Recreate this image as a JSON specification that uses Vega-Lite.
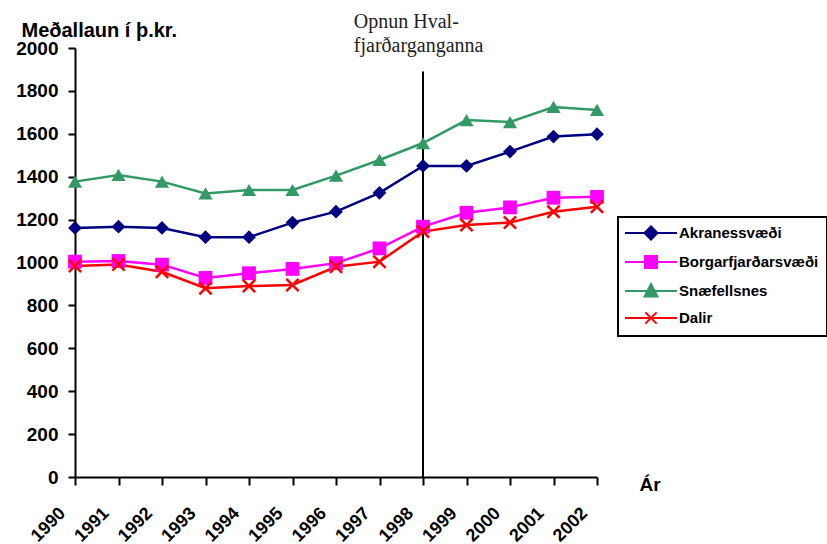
{
 "$schema": "https://vega.github.io/schema/vega-lite/v6.json",
 "width": 522,
 "height": 429,
 "autosize": "none",
 "padding": {"left": 75, "top": 48, "right": 230, "bottom": 67},
 "background": "white",
 "config": {"view": {"stroke": null}, "font": "Liberation Sans"},
 "datasets": {
  "laun": [
   {"year": 1990, "series": "Akranessvæði", "value": 1161},
   {"year": 1991, "series": "Akranessvæði", "value": 1167},
   {"year": 1992, "series": "Akranessvæði", "value": 1161},
   {"year": 1993, "series": "Akranessvæði", "value": 1118},
   {"year": 1994, "series": "Akranessvæði", "value": 1118},
   {"year": 1995, "series": "Akranessvæði", "value": 1186},
   {"year": 1996, "series": "Akranessvæði", "value": 1237},
   {"year": 1997, "series": "Akranessvæði", "value": 1325},
   {"year": 1998, "series": "Akranessvæði", "value": 1450},
   {"year": 1999, "series": "Akranessvæði", "value": 1450},
   {"year": 2000, "series": "Akranessvæði", "value": 1517},
   {"year": 2001, "series": "Akranessvæði", "value": 1587},
   {"year": 2002, "series": "Akranessvæði", "value": 1598},
   {"year": 1990, "series": "Borgarfjarðarsvæði", "value": 1004},
   {"year": 1991, "series": "Borgarfjarðarsvæði", "value": 1007},
   {"year": 1992, "series": "Borgarfjarðarsvæði", "value": 990},
   {"year": 1993, "series": "Borgarfjarðarsvæði", "value": 928},
   {"year": 1994, "series": "Borgarfjarðarsvæði", "value": 950},
   {"year": 1995, "series": "Borgarfjarðarsvæði", "value": 970},
   {"year": 1996, "series": "Borgarfjarðarsvæði", "value": 997},
   {"year": 1997, "series": "Borgarfjarðarsvæði", "value": 1066},
   {"year": 1998, "series": "Borgarfjarðarsvæði", "value": 1167},
   {"year": 1999, "series": "Borgarfjarðarsvæði", "value": 1232},
   {"year": 2000, "series": "Borgarfjarðarsvæði", "value": 1257},
   {"year": 2001, "series": "Borgarfjarðarsvæði", "value": 1302},
   {"year": 2002, "series": "Borgarfjarðarsvæði", "value": 1306},
   {"year": 1990, "series": "Snæfellsnes", "value": 1377},
   {"year": 1991, "series": "Snæfellsnes", "value": 1408},
   {"year": 1992, "series": "Snæfellsnes", "value": 1377},
   {"year": 1993, "series": "Snæfellsnes", "value": 1322},
   {"year": 1994, "series": "Snæfellsnes", "value": 1338},
   {"year": 1995, "series": "Snæfellsnes", "value": 1338},
   {"year": 1996, "series": "Snæfellsnes", "value": 1405},
   {"year": 1997, "series": "Snæfellsnes", "value": 1478},
   {"year": 1998, "series": "Snæfellsnes", "value": 1557},
   {"year": 1999, "series": "Snæfellsnes", "value": 1664},
   {"year": 2000, "series": "Snæfellsnes", "value": 1655},
   {"year": 2001, "series": "Snæfellsnes", "value": 1725},
   {"year": 2002, "series": "Snæfellsnes", "value": 1711},
   {"year": 1990, "series": "Dalir", "value": 984},
   {"year": 1991, "series": "Dalir", "value": 991},
   {"year": 1992, "series": "Dalir", "value": 957},
   {"year": 1993, "series": "Dalir", "value": 880},
   {"year": 1994, "series": "Dalir", "value": 890},
   {"year": 1995, "series": "Dalir", "value": 895},
   {"year": 1996, "series": "Dalir", "value": 980},
   {"year": 1997, "series": "Dalir", "value": 1004},
   {"year": 1998, "series": "Dalir", "value": 1144},
   {"year": 1999, "series": "Dalir", "value": 1175},
   {"year": 2000, "series": "Dalir", "value": 1186},
   {"year": 2001, "series": "Dalir", "value": 1237},
   {"year": 2002, "series": "Dalir", "value": 1260}
  ],
  "marker": [{"year": 1998, "low": 0, "high": 1890, "labelYear": 1996.41, "labelValue": 2093}]
 },
 "layer": [
  {
   "data": {"name": "marker"},
   "mark": {"type": "rule", "color": "black", "strokeWidth": 2},
   "encoding": {
    "x": {"field": "year", "type": "quantitative"},
    "y": {"field": "low", "type": "quantitative"},
    "y2": {"field": "high"}
   }
  },
  {
   "data": {"name": "laun"},
   "mark": {"type": "line", "strokeWidth": 2.5},
   "encoding": {
    "x": {
     "field": "year", "type": "quantitative",
     "scale": {"domain": [1990, 2002], "nice": false, "zero": false},
     "axis": {
      "values": [1990,1991,1992,1993,1994,1995,1996,1997,1998,1999,2000,2001,2002],
      "format": "d", "grid": false,
      "labelAngle": -45, "labelAlign": "right", "labelBaseline": "top",
      "labelFontSize": 18, "labelFontWeight": "bold", "labelColor": "black",
      "labelPadding": 19, "labelOffset": -19, "labelFlush": false, "labelOverlap": false,
      "tickSize": 8, "tickWidth": 2, "tickColor": "black",
      "domainWidth": 2, "domainColor": "black",
      "title": "Ár", "titleFontSize": 19, "titleFontWeight": "bold", "titleColor": "black",
      "titleAngle": 0, "titleAlign": "left", "titleBaseline": "alphabetic",
      "titleX": 564, "titleY": 13
     }
    },
    "y": {
     "field": "value", "type": "quantitative",
     "scale": {"domain": [0, 2000], "nice": false},
     "axis": {
      "values": [0,200,400,600,800,1000,1200,1400,1600,1800,2000],
      "format": "d", "grid": false,
      "labelFontSize": 19, "labelFontWeight": "bold", "labelColor": "black",
      "labelPadding": 10,
      "tickSize": 7, "tickWidth": 2, "tickColor": "black",
      "domainWidth": 2, "domainColor": "black",
      "title": "Meðallaun í þ.kr.", "titleFontSize": 20, "titleFontWeight": "bold", "titleColor": "black",
      "titleAngle": 0, "titleAlign": "left", "titleBaseline": "alphabetic",
      "titleX": -54, "titleY": -12
     }
    },
    "color": {
     "field": "series", "type": "nominal",
     "scale": {"domain": ["Akranessvæði", "Borgarfjarðarsvæði", "Snæfellsnes", "Dalir"], "range": ["#000080", "#FF00FF", "#339966", "#FF0000"]},
     "legend": {
      "title": null, "orient": "none", "legendX": 543, "legendY": 169,
      "strokeColor": "black", "padding": 8, "rowPadding": 7,
      "symbolSize": 196, "symbolStrokeWidth": 2, "symbolOffset": 17,
      "labelFont": "Liberation Sans", "labelFontSize": 15, "labelFontWeight": "bold", "labelColor": "black",
      "labelOffset": 20, "labelLimit": 300,
      "encode": {
       "legend": {"update": {"strokeWidth": {"value": 2}}},
       "symbols": {"update": {
        "shape": {"signal": "datum.value === 'Akranessvæði' ? 'M-3.714,0L3.714,0M-0.93,0L0,-0.93L0.93,0L0,0.93Z' : datum.value === 'Borgarfjarðarsvæði' ? 'M-3.714,0L3.714,0M-0.86,-0.86L0.86,-0.86L0.86,0.86L-0.86,0.86Z' : datum.value === 'Snæfellsnes' ? 'M-3.714,0L3.714,0M0,-1L0.93,0.8L-0.93,0.8Z' : 'M-3.714,0L3.714,0M-0.8,-0.8L0.8,0.8M-0.8,0.8L0.8,-0.8'"},
        "fill": {"signal": "scale('color', datum.value)"},
        "stroke": {"signal": "scale('color', datum.value)"},
        "strokeWidth": {"value": 2},
        "opacity": {"value": 1}
       }}
      }
     }
    }
   }
  },
  {
   "data": {"name": "laun"},
   "transform": [{"filter": "datum.series === 'Akranessvæði'"}],
   "mark": {"type": "point", "shape": "diamond", "filled": true, "opacity": 1, "size": 190, "color": "#000080"},
   "encoding": {
    "x": {"field": "year", "type": "quantitative"},
    "y": {"field": "value", "type": "quantitative"}
   }
  },
  {
   "data": {"name": "laun"},
   "transform": [{"filter": "datum.series === 'Borgarfjarðarsvæði'"}],
   "mark": {"type": "point", "shape": "square", "filled": true, "opacity": 1, "size": 190, "color": "#FF00FF"},
   "encoding": {
    "x": {"field": "year", "type": "quantitative"},
    "y": {"field": "value", "type": "quantitative"}
   }
  },
  {
   "data": {"name": "laun"},
   "transform": [{"filter": "datum.series === 'Snæfellsnes'"}],
   "mark": {"type": "point", "shape": "triangle-up", "filled": true, "opacity": 1, "size": 200, "color": "#339966"},
   "encoding": {
    "x": {"field": "year", "type": "quantitative"},
    "y": {"field": "value", "type": "quantitative"}
   }
  },
  {
   "data": {"name": "laun"},
   "transform": [{"filter": "datum.series === 'Dalir'"}],
   "mark": {"type": "point", "shape": "M-1,-1L1,1M-1,1L1,-1", "filled": false, "opacity": 1, "size": 150, "strokeWidth": 2.5, "color": "#FF0000"},
   "encoding": {
    "x": {"field": "year", "type": "quantitative"},
    "y": {"field": "value", "type": "quantitative"}
   }
  },
  {
   "data": {"name": "marker"},
   "mark": {"type": "text", "font": "Liberation Serif", "fontSize": 20, "align": "left", "baseline": "alphabetic", "lineHeight": 24, "color": "#222222"},
   "encoding": {
    "x": {"field": "labelYear", "type": "quantitative"},
    "y": {"field": "labelValue", "type": "quantitative"},
    "text": {"value": ["Opnun Hval-", "fjarðarganganna"]}
   }
  }
 ]
}
